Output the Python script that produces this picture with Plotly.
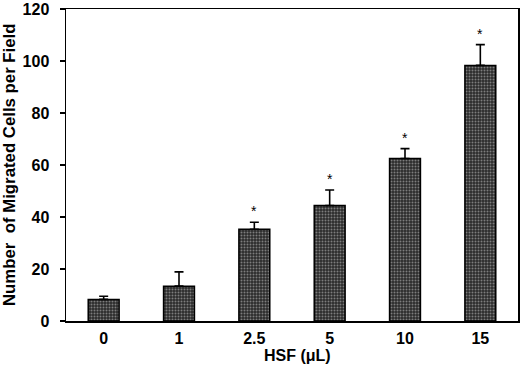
import plotly.graph_objects as go

categories = ["0", "1", "2.5", "5", "10", "15"]
means = [8.3, 13.4, 35.3, 44.4, 62.5, 98.3]
errors = [1.2, 5.5, 2.7, 6.0, 3.8, 8.0]
significant = [False, False, True, True, True, True]
y_ticks = [0, 20, 40, 60, 80, 100, 120]
x_title = "HSF (μL)"
y_title = "Number  of Migrated Cells per Field"

FONT = "Liberation Sans, Arial, sans-serif"
W, H = 520, 369
L, R, T, B = 66, 2, 9, 48
PW, PH = W - L - R, H - T - B

fig = go.Figure()
fig.add_trace(go.Bar(
    x=list(range(len(categories))),
    y=means,
    width=0.41,
    marker=dict(
        color="#2b2b2b",
        line=dict(color="black", width=1.5),
        pattern=dict(shape=".", bgcolor="#2b2b2b", fgcolor="#d0d0d0",
                     size=3, solidity=0.35, fillmode="overlay"),
    ),
    error_y=dict(type="data", symmetric=False, array=errors,
                 arrayminus=[0] * len(errors), color="black",
                 thickness=1.6, width=4.5),
    showlegend=False,
    hoverinfo="skip",
))

for i, (m, e, s) in enumerate(zip(means, errors, significant)):
    if s:
        fig.add_annotation(x=i, y=m + e, xref="x", yref="y", text="*",
                           showarrow=False, yanchor="bottom", yshift=1,
                           font=dict(family=FONT, size=14, color="black"))

# axis titles as annotations for exact placement
fig.add_annotation(x=(297 - L) / PW, y=(H - B - 355) / PH,
                   xref="paper", yref="paper", text="<b>" + x_title + "</b>",
                   showarrow=False, xanchor="center", yanchor="middle",
                   font=dict(family=FONT, size=16, color="black"))
fig.add_annotation(x=(9 - L) / PW, y=(H - B - 165) / PH, xref="paper", yref="paper",
                   text="<b>" + y_title + "</b>", textangle=-90,
                   showarrow=False, xanchor="center", yanchor="middle",
                   font=dict(family=FONT, size=16.8, color="black"))

fig.update_layout(
    width=W, height=H,
    margin=dict(l=L, r=R, t=T, b=B),
    paper_bgcolor="white", plot_bgcolor="white",
    font=dict(family=FONT, color="black"),
)
fig.update_xaxes(
    range=[-0.5, 5.5], tickvals=list(range(len(categories))), ticktext=categories,
    showline=True, linecolor="black", linewidth=1.5, mirror=True,
    ticks="", showgrid=False, zeroline=False, automargin=False,
    tickfont=dict(family=FONT, size=16, color="black", weight="bold"),
    ticklabelstandoff=2,
)
fig.update_yaxes(
    range=[0, 120], tickvals=y_ticks,
    showline=True, linecolor="black", linewidth=1.5, mirror=True,
    ticks="outside", ticklen=5, tickwidth=1.5, tickcolor="black",
    showgrid=False, zeroline=False, automargin=False,
    tickfont=dict(family=FONT, size=16, color="black", weight="bold"),
    ticklabelstandoff=7,
)

fig.write_html("out.html", config={"displayModeBar": False, "staticPlot": True},
               post_script="document.body.style.margin='0';document.body.style.overflow='hidden';")
